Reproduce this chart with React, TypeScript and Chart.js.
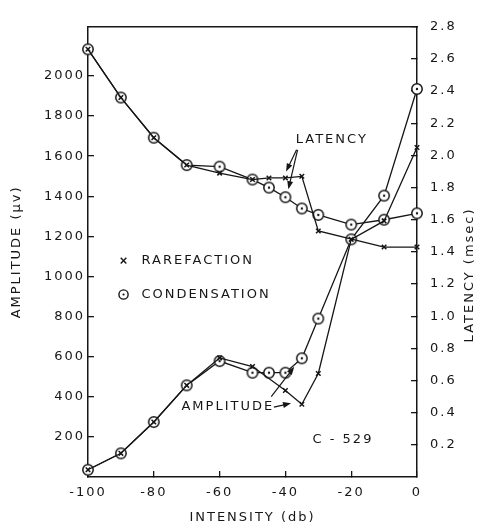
import React, { useEffect, useRef } from 'react';
import { Chart, registerables } from 'chart.js';

Chart.register(...registerables);

// ---- data ----
const INTENSITY_DB = [-100, -90, -80, -70, -60, -50, -45, -40, -35, -30, -20, -10, 0];
const LATENCY_RAREFACTION = [2.66, 2.36, 2.11, 1.94, 1.89, 1.85, 1.86, 1.86, 1.87, 1.53, null, 1.43, 1.43];
const LATENCY_CONDENSATION = [2.66, 2.36, 2.11, 1.94, 1.93, 1.85, 1.8, 1.74, 1.67, 1.63, 1.57, 1.6, 1.64];
const AMPLITUDE_RAREFACTION = [36, 118, 274, 457, 594, 551, null, 431, 363, 516, 1185, 1277, 1643];
const AMPLITUDE_CONDENSATION = [36, 118, 274, 457, 578, 520, 520, 520, 592, 790, 1185, 1403, 1935];

const X_TICKS = [-100, -80, -60, -40, -20, 0];
const AMPLITUDE_TICKS = [200, 400, 600, 800, 1000, 1200, 1400, 1600, 1800, 2000];
const LATENCY_TICKS = [0.2, 0.4, 0.6, 0.8, 1.0, 1.2, 1.4, 1.6, 1.8, 2.0, 2.2, 2.4, 2.6, 2.8];

const X_TITLE = 'INTENSITY (db)';
const Y_TITLE = 'AMPLITUDE (µv)';
const Y1_TITLE = 'LATENCY (msec)';

// annotations, in (dB, latency) data coordinates
const LEGEND_ROWS = [
  { label: 'RAREFACTION', marker: 'x', x: -89.2, y: 1.346 },
  { label: 'CONDENSATION', marker: 'o', x: -89.2, y: 1.135 },
];
const NOTES = [
  { text: 'LATENCY', x: -25.9, y: 2.1 },
  { text: 'AMPLITUDE', x: -57.5, y: 0.435 },
  { text: 'C - 529', x: -22.5, y: 0.235 },
];
const ARROWS = [
  { from: [-36.6, 2.035], to: [-39.8, 1.9] },
  { from: [-36.3, 2.035], to: [-39.1, 1.79] },
  { from: [-44.3, 0.5], to: [-37.3, 0.685] },
  { from: [-43.5, 0.435], to: [-38.3, 0.458] },
];

const INK = '#161616';
const FONT_FAMILY = '"DejaVu Sans", sans-serif';
const FONT_SIZE = 13;
const SPACING = '2px';

function makeCondensationMarker(): HTMLCanvasElement {
  const c = document.createElement('canvas');
  c.width = 14;
  c.height = 14;
  const g = c.getContext('2d')!;
  g.beginPath();
  g.arc(7, 7, 5.2, 0, Math.PI * 2);
  g.fillStyle = '#fff';
  g.fill();
  g.lineWidth = 1.5;
  g.strokeStyle = INK;
  g.stroke();
  g.beginPath();
  g.arc(7, 7, 1.2, 0, Math.PI * 2);
  g.fillStyle = INK;
  g.fill();
  return c;
}

function toPoints(values: (number | null)[]) {
  return INTENSITY_DB.map((x, i) => ({ x, y: values[i] }));
}

const annotatePlugin = {
  id: 'annotate',
  beforeUpdate(chart: any) {
    chart.ctx.letterSpacing = SPACING;
  },
  afterDraw(chart: any) {
    const { ctx, scales, chartArea } = chart;
    const xs = scales.x;
    const ys = scales.y1;
    const px = (v: number) => xs.getPixelForValue(v);
    const py = (v: number) => ys.getPixelForValue(v);
    ctx.save();
    ctx.letterSpacing = SPACING;
    ctx.font = `${FONT_SIZE}px ${FONT_FAMILY}`;
    ctx.fillStyle = INK;
    ctx.strokeStyle = INK;
    ctx.textBaseline = 'middle';

    // legend
    LEGEND_ROWS.forEach((row) => {
      const mx = px(row.x);
      const my = py(row.y);
      ctx.lineWidth = 1.4;
      if (row.marker === 'x') {
        const r = 2.8;
        ctx.beginPath();
        ctx.moveTo(mx - r, my - r);
        ctx.lineTo(mx + r, my + r);
        ctx.moveTo(mx + r, my - r);
        ctx.lineTo(mx - r, my + r);
        ctx.stroke();
      } else {
        ctx.beginPath();
        ctx.arc(mx, my, 4.6, 0, Math.PI * 2);
        ctx.stroke();
        ctx.beginPath();
        ctx.arc(mx, my, 1.1, 0, Math.PI * 2);
        ctx.fill();
      }
      ctx.textAlign = 'left';
      ctx.fillText(row.label, mx + 18, my);
    });

    // notes
    NOTES.forEach((n) => {
      ctx.textAlign = 'center';
      ctx.fillText(n.text, px(n.x), py(n.y));
    });

    // arrows
    ARROWS.forEach((a) => {
      const x1 = px(a.from[0]);
      const y1 = py(a.from[1]);
      const x2 = px(a.to[0]);
      const y2 = py(a.to[1]);
      const ang = Math.atan2(y2 - y1, x2 - x1);
      const len = 8;
      const w = 3;
      ctx.lineWidth = 1.2;
      ctx.beginPath();
      ctx.moveTo(x1, y1);
      ctx.lineTo(x2 - Math.cos(ang) * len * 0.6, y2 - Math.sin(ang) * len * 0.6);
      ctx.stroke();
      ctx.beginPath();
      ctx.moveTo(x2, y2);
      ctx.lineTo(x2 - Math.cos(ang) * len - Math.sin(ang) * w, y2 - Math.sin(ang) * len + Math.cos(ang) * w);
      ctx.lineTo(x2 - Math.cos(ang) * len + Math.sin(ang) * w, y2 - Math.sin(ang) * len - Math.cos(ang) * w);
      ctx.closePath();
      ctx.fill();
    });

    // right axis title, reading bottom to top
    ctx.save();
    ctx.translate(chartArea.right + 53, (chartArea.top + chartArea.bottom) / 2 + 23);
    ctx.rotate(-Math.PI / 2);
    ctx.textAlign = 'center';
    ctx.fillText(Y1_TITLE, 0, 0);
    ctx.restore();

    ctx.restore();
  },
};

export default function App() {
  const canvasRef = useRef<HTMLCanvasElement | null>(null);

  useEffect(() => {
    const canvas = canvasRef.current;
    if (!canvas) return;
    const marker = makeCondensationMarker();
    const font = { family: FONT_FAMILY, size: FONT_SIZE };

    const lineBase = {
      borderColor: INK,
      borderWidth: 1.3,
      tension: 0,
      spanGaps: true,
      clip: false as const,
      pointBorderColor: INK,
      pointBackgroundColor: '#fff',
    };
    const xMarker = { pointStyle: 'crossRot', pointRadius: 3.2, pointBorderWidth: 1.5, pointHoverRadius: 3.2 };
    const oMarker = { pointStyle: marker, pointRadius: 5, pointHoverRadius: 5 };

    const chart = new Chart(canvas, {
      type: 'line',
      data: {
        datasets: [
          { ...lineBase, ...xMarker, label: 'Rarefaction latency', data: toPoints(LATENCY_RAREFACTION), yAxisID: 'y1' },
          { ...lineBase, ...xMarker, label: 'Rarefaction amplitude', data: toPoints(AMPLITUDE_RAREFACTION), yAxisID: 'y' },
          { ...lineBase, ...oMarker, label: 'Condensation latency', data: toPoints(LATENCY_CONDENSATION), yAxisID: 'y1' },
          { ...lineBase, ...oMarker, label: 'Condensation amplitude', data: toPoints(AMPLITUDE_CONDENSATION), yAxisID: 'y' },
        ] as any,
      },
      options: {
        animation: false,
        responsive: false,
        devicePixelRatio: 1,
        events: [],
        layout: { padding: { top: 13, left: 0, right: 0, bottom: 0 } },
        plugins: { legend: { display: false }, tooltip: { enabled: false } },
        scales: {
          x: {
            type: 'linear',
            position: 'bottom',
            min: -100,
            max: 0,
            afterBuildTicks: (s: any) => {
              s.ticks = X_TICKS.map((v) => ({ value: v }));
            },
            afterFit: (s: any) => {
              s.height = 54;
            },
            ticks: { color: INK, font, padding: 14, maxRotation: 0, callback: (v: any) => String(v) },
            grid: { display: true, drawOnChartArea: false, drawTicks: true, tickLength: -6, color: INK, lineWidth: 1.3 },
            border: { display: true, color: INK, width: 1.5 },
            title: { display: true, text: X_TITLE, color: INK, font, padding: { top: 2, bottom: 6 } },
          },
          xTop: {
            type: 'linear',
            position: 'top',
            min: -100,
            max: 0,
            afterFit: (s: any) => {
              s.height = 0;
            },
            ticks: { display: false },
            grid: { display: false, drawTicks: false },
            border: { display: true, color: INK, width: 1.5 },
          },
          y: {
            type: 'linear',
            position: 'left',
            min: 0,
            max: 2245,
            afterBuildTicks: (s: any) => {
              s.ticks = AMPLITUDE_TICKS.map((v) => ({ value: v }));
            },
            afterFit: (s: any) => {
              s.width = 88;
            },
            ticks: { color: INK, font, padding: 9, callback: (v: any) => String(v) },
            grid: { display: true, drawOnChartArea: false, drawTicks: true, tickLength: -6, color: INK, lineWidth: 1.3 },
            border: { display: true, color: INK, width: 1.5 },
            title: { display: true, text: Y_TITLE, color: INK, font, padding: { top: 9, bottom: 0 } },
          },
          y1: {
            type: 'linear',
            position: 'right',
            min: 0,
            max: 2.8,
            afterBuildTicks: (s: any) => {
              s.ticks = LATENCY_TICKS.map((v) => ({ value: v }));
            },
            afterFit: (s: any) => {
              s.width = 66;
            },
            ticks: { color: INK, font, padding: 19, callback: (v: any) => Number(v).toFixed(1) },
            grid: { display: true, drawOnChartArea: false, drawTicks: true, tickLength: -6, color: INK, lineWidth: 1.3 },
            border: { display: true, color: INK, width: 1.5 },
          },
        },
      } as any,
      plugins: [annotatePlugin],
    });

    return () => {
      chart.destroy();
    };
  }, []);

  return (
    <div style={{ position: 'absolute', left: 0, top: 0, width: 483, height: 531, background: '#fff' }}>
      <canvas ref={canvasRef} width={483} height={531} style={{ display: 'block', width: 483, height: 531 }} />
    </div>
  );
}
